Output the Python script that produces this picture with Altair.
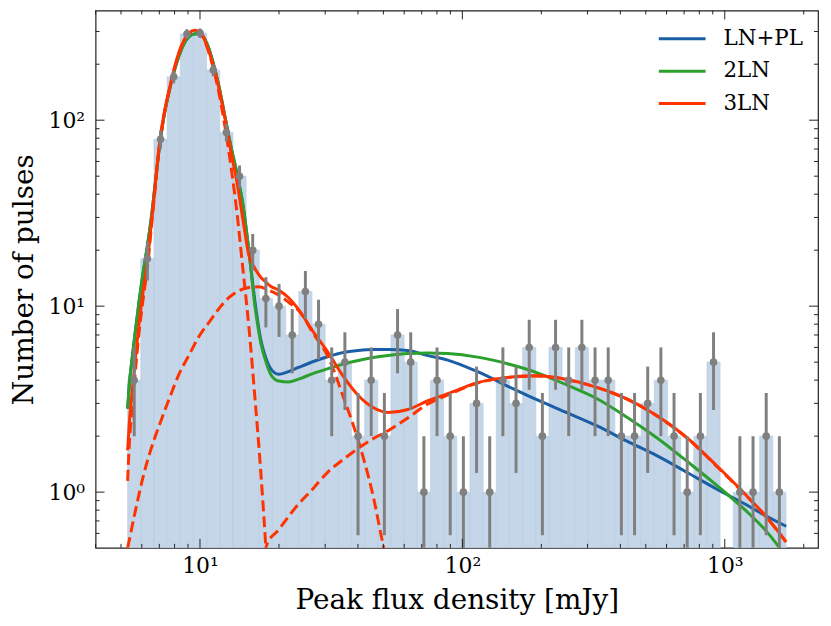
import numpy as np
import pandas as pd
import altair as alt

# ---------------- values ----------------
BIN_MIN = 5.30      # mJy, left edge of the first histogram bin
BIN_MAX = 1711.0    # mJy, right edge of the last histogram bin
COUNTS = [4, 18, 79, 171, 291, 294, 186, 86, 50, 20,
          11, 10, 7, 12, 8, 4, 5, 2, 4, 2,
          7, 5, 1, 4, 2, 1, 3, 1, 4, 3,
          6, 2, 6, 4, 6, 4, 4, 2, 2, 3,
          4, 2, 1, 2, 5, 0, 1, 1, 2, 1]

CURVE_FLUX = [5.30, 5.38, 5.52, 5.67, 5.87, 6.08, 6.30, 6.52, 6.75, 6.99,
              7.30, 7.63, 7.97, 8.32, 8.70, 9.08, 9.57, 10.09, 10.63, 11.20,
              11.81, 12.44, 13.11, 13.81, 14.56, 15.35, 16.17, 17.04, 17.80, 18.59,
              19.93, 21.76, 23.74, 27.06, 30.85, 35.18, 40.11, 45.71, 52.12, 62.04,
              73.91, 87.99, 114.3, 148.6, 193.1, 250.9, 326.2, 423.9, 550.8, 715.9,
              930.0, 1209, 1439, 1714]
LNPL = [2.81, 3.81, 5.31, 7.31, 10.8, 15.3, 21.0, 29.6, 45.6, 70.0,
        106, 143, 183, 222, 258, 281, 292, 288, 258, 206,
        152, 105, 72.7, 52.2, 35.6, 20.0, 10.8, 6.61, 5.30, 4.62,
        4.30, 4.45, 4.68, 5.04, 5.36, 5.63, 5.77, 5.84, 5.84, 5.77,
        5.42, 5.13, 4.44, 3.72, 3.13, 2.67, 2.27, 1.88, 1.57, 1.28,
        1.04, 0.855, 0.744, 0.655]
TWO_LN = [2.81, 3.81, 5.31, 7.31, 10.8, 15.3, 21.0, 29.6, 45.6, 70.0,
          106, 143, 183, 222, 258, 281, 292, 288, 258, 206,
          152, 105, 72.7, 52.2, 35.6, 20.0, 10.2, 6.39, 5.06, 4.31,
          3.96, 3.91, 4.05, 4.35, 4.62, 4.88, 5.10, 5.29, 5.43, 5.56,
          5.60, 5.56, 5.32, 4.90, 4.38, 3.76, 3.18, 2.53, 1.96, 1.47,
          1.09, 0.79, 0.617, 0.45]
THREE_LN = [1.68, 2.38, 3.50, 5.19, 8.27, 12.2, 17.3, 27.5, 44.5, 72.7,
            109, 146, 189, 233, 270, 295, 305, 295, 251, 200,
            148, 103, 68, 47, 29.5, 18.8, 16.0, 14.3, 13.5, 12.8,
            12.2, 11.1, 9.6, 7.26, 5.61, 4.19, 3.31, 2.85, 2.68, 2.78,
            3.10, 3.38, 3.88, 4.14, 4.22, 4.03, 3.66, 3.17, 2.58, 1.97,
            1.39, 0.96, 0.737, 0.54]

# dashed components of the 3LN model
C1_FLUX = [5.30, 5.38, 5.52, 5.67, 5.87, 6.08, 6.30, 6.52, 6.75, 6.99,
           7.30, 7.63, 7.97, 8.32, 8.70, 9.08, 9.57, 10.09, 10.63, 11.20,
           11.81, 12.44, 13.11, 13.81, 14.56, 15.35, 16.17, 17.04, 17.80, 18.11]
C1 = [1.15, 1.83, 2.85, 4.44, 7.4, 11.1, 16.0, 26.0, 43.0, 71.0,
      107, 144, 187, 230, 267, 292, 302, 292, 248, 194,
      140, 93, 57, 32.5, 16.0, 7.8, 3.3, 1.3, 0.52, 0.35]
C2_FLUX = [5.30, 5.67, 6.08, 6.52, 6.99, 7.63, 8.32, 9.08, 9.91, 10.82,
           11.81, 12.88, 14.06, 15.35, 16.74, 18.27, 19.93, 21.76, 23.74, 27.06,
           30.85, 35.18, 40.11, 45.71, 49.89, 51.2]
C2 = [0.50, 0.79, 1.22, 1.72, 2.28, 3.17, 4.31, 5.45, 6.87, 8.17,
      9.70, 11.1, 12.1, 12.6, 12.7, 12.2, 11.5, 10.5, 9.5, 7.1,
      5.3, 3.25, 1.89, 0.952, 0.52, 0.44]
C3_FLUX = [17.64, 17.96, 19.93, 23.07, 27.06, 30.85, 35.18, 40.11, 45.71, 52.12,
           62.04, 73.91, 87.99, 114.3, 148.6, 193.1, 250.9, 326.2, 423.9, 550.8,
           715.9, 930.0, 1209, 1439, 1714]
C3 = [0.47, 0.52, 0.627, 0.822, 1.05, 1.29, 1.50, 1.72, 1.94, 2.14,
      2.51, 2.98, 3.33, 3.86, 4.13, 4.21, 4.02, 3.65, 3.16, 2.57,
      1.96, 1.38, 0.955, 0.735, 0.538]

MODELS = ["LN+PL", "2LN", "3LN"]
COLORS = ["#1a5ea6", "#2ca02c", "#ff3300"]

X_MAJOR = [10, 100, 1000]
X_MINOR = [4, 5, 6, 7, 8, 9, 20, 30, 40, 50, 60, 70, 80, 90,
           200, 300, 400, 500, 600, 700, 800, 900, 2000]
Y_MAJOR = [1, 10, 100]
Y_MINOR = [0.6, 0.7, 0.8, 0.9, 2, 3, 4, 5, 6, 7, 8, 9,
           20, 30, 40, 50, 60, 70, 80, 90, 200, 300]

X_DOMAIN = [4.0, 2267]
Y_DOMAIN = [0.5016, 389]

# ---------------- tables ----------------
edges = np.logspace(np.log10(BIN_MIN), np.log10(BIN_MAX), len(COUNTS) + 1)
hist = pd.DataFrame({"lo": edges[:-1], "hi": edges[1:],
                     "n": np.array(COUNTS, dtype=float),
                     "mid": np.sqrt(edges[:-1] * edges[1:])})
hist = hist[hist["n"] > 0].copy()
err = np.sqrt(hist["n"])
hist["elo"] = np.where(hist["n"] - err > 0, hist["n"] - err, 0.05)
hist["ehi"] = hist["n"] + err
hist["base"] = 0.05

curves = {
    "LN+PL": pd.DataFrame({"flux": CURVE_FLUX, "n": LNPL, "model": "LN+PL"}),
    "2LN": pd.DataFrame({"flux": CURVE_FLUX, "n": TWO_LN, "model": "2LN"}),
    "3LN": pd.DataFrame({"flux": CURVE_FLUX, "n": THREE_LN, "model": "3LN"}),
}
comps = pd.concat([
    pd.DataFrame({"flux": C1_FLUX, "n": C1, "comp": "c1"}),
    pd.DataFrame({"flux": C2_FLUX, "n": C2, "comp": "c2"}),
    pd.DataFrame({"flux": C3_FLUX, "n": C3, "comp": "c3"}),
])

xs = alt.Scale(type="log", domain=X_DOMAIN, nice=False)
ys = alt.Scale(type="log", domain=Y_DOMAIN, nice=False)
cs = alt.Scale(domain=MODELS, range=COLORS)

SUP = ("datum.value == 1 ? '10\u2070' : datum.value == 10 ? '10\u00b9' : "
       "datum.value == 100 ? '10\u00b2' : '10\u00b3'")

W, H = 726, 540
FONT = "DejaVu Serif"

X_AXIS = alt.Axis(values=X_MAJOR, labelExpr=SUP, title="Peak flux density [mJy]",
                  labelPadding=8, titlePadding=10, ticks=False, tickSize=0,
                  domain=False, grid=False)
Y_AXIS = alt.Axis(values=Y_MAJOR, labelExpr=SUP, title="Number of pulses",
                  labelPadding=11, titlePadding=10, ticks=False, tickSize=0,
                  domain=False, grid=False)


def X(field):
    return alt.X(field, scale=xs, axis=X_AXIS)


def Y(field):
    return alt.Y(field, scale=ys, axis=Y_AXIS)


bars = alt.Chart(hist).mark_rect(
    color="#c4d6e8", stroke="#b7cbe0", strokeWidth=0.6, clip=True
).encode(x=X("lo:Q"), x2="hi:Q", y=Y("n:Q"), y2="base:Q")

legend = alt.Legend(title=None, orient="none", legendX=576, legendY=15,
                    symbolType="M-2,0H2", symbolSize=552, symbolStrokeWidth=3,
                    labelFont=FONT, labelFontSize=21.5, labelColor="black",
                    labelOffset=28, rowPadding=8.5, padding=0)

lines = []
for m in MODELS:
    lines.append(
        alt.Chart(curves[m]).mark_line(strokeWidth=3, interpolate="monotone", clip=True).encode(
            x=X("flux:Q"), y=Y("n:Q"),
            color=alt.Color("model:N", scale=cs, legend=legend),
        )
    )

dashed = alt.Chart(comps).mark_line(
    strokeWidth=3, strokeDash=[11, 5], color=COLORS[2], interpolate="monotone", clip=True
).encode(x=X("flux:Q"), y=Y("n:Q"), detail="comp:N")

errbars = alt.Chart(hist).mark_rule(color="#808080", strokeWidth=3, clip=True).encode(
    x=X("mid:Q"), y=Y("elo:Q"), y2="ehi:Q")
points = alt.Chart(hist).mark_circle(color="#808080", size=58, opacity=1).encode(
    x=X("mid:Q"), y=Y("n:Q"))


# inward ticks on all four sides (matplotlib style)
def xticks(vals, length):
    d = pd.DataFrame({"v": vals})
    bottom = alt.Chart(d).mark_rule(color="#222", strokeWidth=1).encode(
        x=X("v:Q"), y=alt.value(H), y2=alt.value(H - length))
    top = alt.Chart(d).mark_rule(color="#222", strokeWidth=1).encode(
        x=X("v:Q"), y=alt.value(0), y2=alt.value(length))
    return [bottom, top]


def yticks(vals, length):
    d = pd.DataFrame({"v": vals})
    left = alt.Chart(d).mark_rule(color="#222", strokeWidth=1).encode(
        y=Y("v:Q"), x=alt.value(0), x2=alt.value(length))
    right = alt.Chart(d).mark_rule(color="#222", strokeWidth=1).encode(
        y=Y("v:Q"), x=alt.value(W), x2=alt.value(W - length))
    return [left, right]


ticks = xticks(X_MAJOR, 9) + xticks(X_MINOR, 4) + yticks(Y_MAJOR, 9) + yticks(Y_MINOR, 4)

chart = alt.layer(
    bars, *lines, dashed, errbars, points, *ticks
).properties(
    width=W, height=H,
    padding={"left": 88, "top": 1, "right": 5, "bottom": 70},
    autosize="none",
).configure(
    font=FONT,
).configure_view(
    stroke="#222", strokeWidth=1.2,
).configure_axis(
    labelFont=FONT, labelFontSize=22, labelColor="black",
    titleFont=FONT, titleFontSize=28, titleFontWeight="normal", titleColor="black",
)

chart.save("out.html", embed_options={"renderer": "svg", "actions": False})
